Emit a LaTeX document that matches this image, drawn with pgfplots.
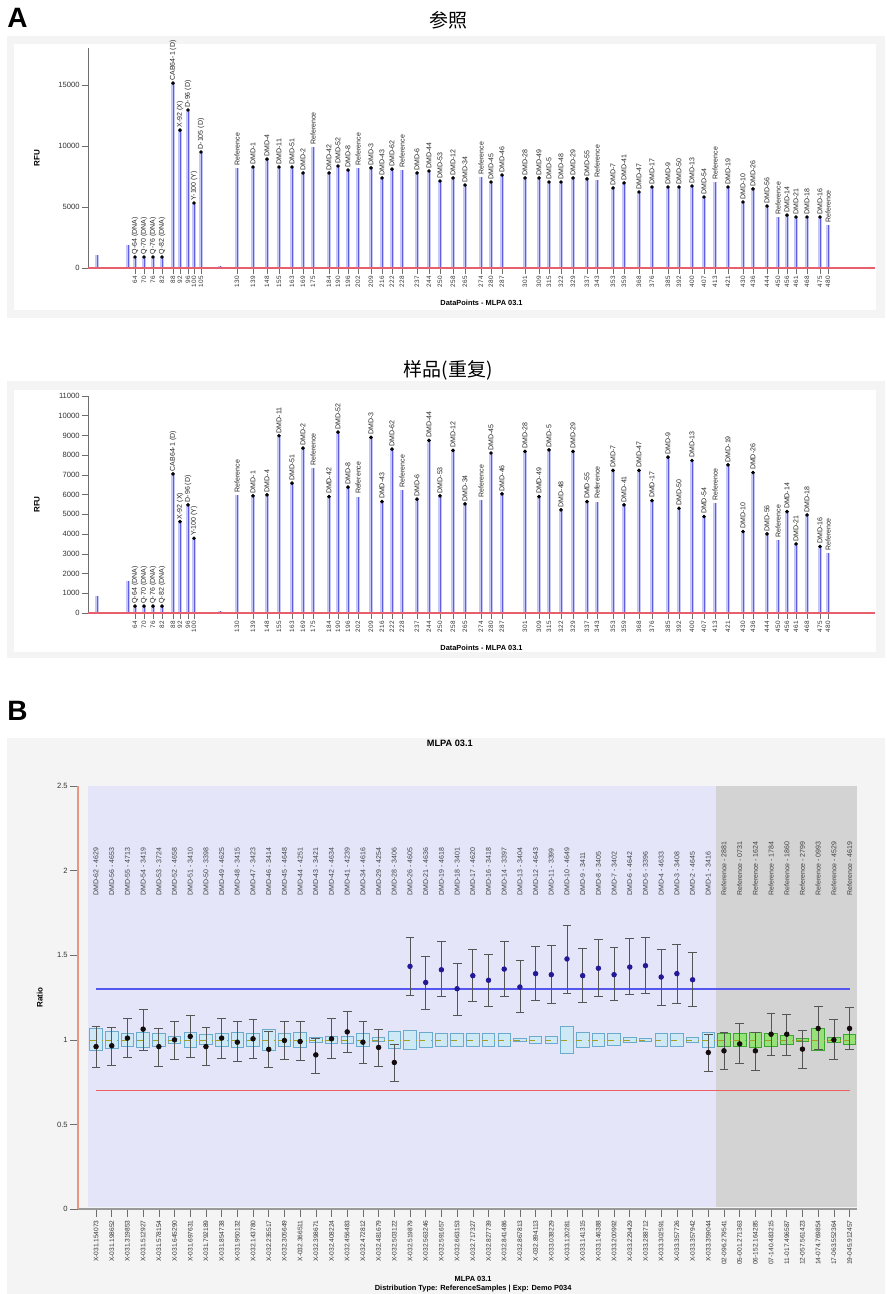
\documentclass[border=0pt]{standalone}
\usepackage{fontspec}
\setmainfont{Liberation Sans}
\newfontfamily\cjk{Noto Sans CJK SC}
\usepackage{pgfplots}
\pgfplotsset{compat=1.18}
\usepgfplotslibrary{statistics}
\usepackage{pgfplotstable}

\definecolor{peak}{RGB}{95,95,225}
\definecolor{peakhalo}{RGB}{200,200,246}
\definecolor{base}{RGB}{232,95,110}
\definecolor{axgray}{RGB}{110,110,110}
\definecolor{lav}{RGB}{229,229,250}
\definecolor{refgray}{RGB}{211,211,211}
\definecolor{hiblue}{RGB}{85,85,240}
\definecolor{lored}{RGB}{238,95,95}
\definecolor{navy}{RGB}{35,25,150}
\definecolor{dotblk}{RGB}{20,12,12}
\definecolor{errc}{RGB}{85,85,85}
\definecolor{bxfill}{RGB}{205,233,246}
\definecolor{bxdraw}{RGB}{105,170,205}
\definecolor{gbfill}{RGB}{150,226,120}
\definecolor{gbdraw}{RGB}{60,165,50}
\definecolor{yax}{RGB}{236,150,130}
\definecolor{framebg}{RGB}{244,244,244}

\newcommand{\fsz}[1]{\fontsize{#1}{#1}\selectfont}

% ---------- Panel A: reference run ----------
\pgfplotstableread{
x y d lab
135 900 900 {Q-64 (DNA)}
144 900 900 {Q-70 (DNA)}
153 900 900 {Q-76 (DNA)}
162 900 900 {Q-82 (DNA)}
173 15160 15160 {CAB64-1 (D)}
180 11300 11300 {X-92 (X)}
188 12950 12950 {D-96 (D)}
194 5330 5330 {Y-100 (Y)}
201 9510 9510 {D-105 (D)}
237 8200 nan Reference
253 8280 8280 DMD-1
267 8930 8930 DMD-4
279 8280 8280 DMD-11
292 8280 8280 DMD-51
303 7790 7790 DMD-2
313 9900 nan Reference
329 7790 7790 DMD-42
338 8360 8360 DMD-52
348 8030 8030 DMD-8
358 8200 nan Reference
371 8200 8200 DMD-3
382 7380 7380 DMD-43
392 8110 8110 DMD-62
402 8030 nan Reference
417 7790 7790 DMD-6
429 7950 7950 DMD-44
440 7130 7130 DMD-53
453 7380 7380 DMD-12
465 6800 6800 DMD-34
481 7460 nan Reference
491 7050 7050 DMD-45
502 7620 7620 DMD-46
525 7380 7380 DMD-28
539 7380 7380 DMD-49
549 7050 7050 DMD-5
561 7050 7050 DMD-48
573 7380 7380 DMD-29
587 7300 7300 DMD-55
597 7210 nan Reference
613 6560 6560 DMD-7
624 6970 6970 DMD-41
639 6230 6230 DMD-47
652 6640 6640 DMD-17
668 6640 6640 DMD-9
679 6640 6640 DMD-50
692 6720 6720 DMD-13
704 5820 5820 DMD-54
715 7050 nan Reference
728 6640 6640 DMD-19
743 5410 5410 DMD-10
753 6480 6480 DMD-26
767 5080 5080 DMD-56
778 4180 nan Reference
787 4340 4340 DMD-14
796 4180 4180 DMD-21
807 4180 4180 DMD-18
820 4180 4180 DMD-16
828 3520 nan Reference
}\Aref

% ---------- Panel A: sample run ----------
\pgfplotstableread{
x y d lab
135 350 350 {Q-64 (DNA)}
144 350 350 {Q-70 (DNA)}
153 350 350 {Q-76 (DNA)}
162 350 350 {Q-82 (DNA)}
173 7050 7050 {CAB64-1 (D)}
180 4630 4630 {X-92 (X)}
188 5480 5480 {D-96 (D)}
194 3790 3790 {Y-100 (Y)}
237 5990 nan Reference
253 5940 5940 DMD-1
267 5990 5990 DMD-4
279 8985 8985 DMD-11
292 6580 6580 DMD-51
303 8360 8360 DMD-2
313 7340 nan Reference
329 5900 5900 DMD-42
338 9170 9170 DMD-52
348 6380 6380 DMD-8
358 5900 nan Reference
371 8900 8900 DMD-3
382 5650 5650 DMD-43
392 8310 8310 DMD-62
402 6240 nan Reference
417 5770 5770 DMD-6
429 8750 8750 DMD-44
440 5940 5940 DMD-53
453 8240 8240 DMD-12
465 5530 5530 DMD-34
481 5740 nan Reference
491 8110 8110 DMD-45
502 6040 6040 DMD-46
525 8190 8190 DMD-28
539 5900 5900 DMD-49
549 8270 8270 DMD-5
561 5230 5230 DMD-48
573 8190 8190 DMD-29
587 5650 5650 DMD-55
597 5650 nan Reference
613 7230 7230 DMD-7
624 5480 5480 DMD-41
639 7230 7230 DMD-47
652 5700 5700 DMD-17
668 7900 7900 DMD-9
679 5310 5310 DMD-50
692 7730 7730 DMD-13
704 4890 4890 DMD-54
715 5570 nan Reference
728 7510 7510 DMD-19
743 4130 4130 DMD-10
753 7120 7120 DMD-26
767 4010 4010 DMD-56
778 3710 nan Reference
787 5140 5140 DMD-14
796 3500 3500 DMD-21
807 4970 4970 DMD-18
820 3370 3370 DMD-16
828 3030 nan Reference
}\Asam

% ---------- Panel B ----------
\pgfplotstableread{
i v u l
0 0.960 1.080 0.840
1 0.965 1.075 0.852
2 1.010 1.128 0.897
3 1.063 1.182 0.937
4 0.960 1.065 0.846
5 1.000 1.108 0.882
6 1.020 1.142 0.897
7 0.960 1.073 0.848
8 1.010 1.128 0.892
9 0.986 1.108 0.872
10 1.006 1.118 0.892
11 0.944 1.050 0.836
12 0.996 1.112 0.882
13 0.990 1.108 0.878
14 0.911 1.010 0.803
15 1.006 1.124 0.892
16 1.047 1.168 0.927
17 0.986 1.108 0.862
18 0.955 1.059 0.846
19 0.866 0.976 0.753
39 0.925 1.033 0.813
40 0.935 1.043 0.826
41 0.976 1.098 0.858
42 0.935 1.043 0.818
43 1.033 1.154 0.911
44 1.033 1.152 0.911
45 0.945 1.055 0.832
46 1.067 1.197 0.945
47 1.000 1.118 0.887
48 1.067 1.193 0.945
}\Bblack

\pgfplotstableread{
i v u l
20 1.434 1.608 1.265
21 1.339 1.494 1.178
22 1.414 1.583 1.254
23 1.302 1.454 1.145
24 1.379 1.537 1.225
25 1.352 1.508 1.198
26 1.418 1.584 1.257
27 1.312 1.467 1.162
28 1.391 1.553 1.231
29 1.385 1.557 1.217
30 1.478 1.675 1.272
31 1.379 1.538 1.222
32 1.423 1.592 1.257
33 1.385 1.547 1.234
34 1.430 1.600 1.266
35 1.438 1.608 1.277
36 1.371 1.537 1.201
37 1.391 1.562 1.213
38 1.355 1.518 1.198
}\Bblue

\pgfplotstableread{
i y lab
0 1.85 {DMD-62 - 4629}
1 1.85 {DMD-56 - 4653}
2 1.85 {DMD-55 - 4713}
3 1.85 {DMD-54 - 3419}
4 1.85 {DMD-53 - 3724}
5 1.85 {DMD-52 - 4658}
6 1.85 {DMD-51 - 3410}
7 1.85 {DMD-50 - 3398}
8 1.85 {DMD-49 - 4625}
9 1.85 {DMD-48 - 3415}
10 1.85 {DMD-47 - 3423}
11 1.85 {DMD-46 - 3414}
12 1.85 {DMD-45 - 4648}
13 1.85 {DMD-44 - 4251}
14 1.85 {DMD-43 - 3421}
15 1.85 {DMD-42 - 4634}
16 1.85 {DMD-41 - 4239}
17 1.85 {DMD-34 - 4616}
18 1.85 {DMD-29 - 4254}
19 1.85 {DMD-28 - 3406}
20 1.85 {DMD-26 - 4605}
21 1.85 {DMD-21 - 4636}
22 1.85 {DMD-19 - 4618}
23 1.85 {DMD-18 - 3401}
24 1.85 {DMD-17 - 4620}
25 1.85 {DMD-16 - 3418}
26 1.85 {DMD-14 - 3397}
27 1.85 {DMD-13 - 3404}
28 1.85 {DMD-12 - 4643}
29 1.85 {DMD-11 - 3399}
30 1.85 {DMD-10 - 4649}
31 1.85 {DMD-9 - 3411}
32 1.85 {DMD-8 - 3405}
33 1.85 {DMD-7 - 3402}
34 1.85 {DMD-6 - 4642}
35 1.85 {DMD-5 - 3396}
36 1.85 {DMD-4 - 4633}
37 1.85 {DMD-3 - 3408}
38 1.85 {DMD-2 - 4645}
39 1.85 {DMD-1 - 3416}
40 1.85 {Reference - 2881}
41 1.85 {Reference - 0731}
42 1.85 {Reference - 1624}
43 1.85 {Reference - 1784}
44 1.85 {Reference - 1860}
45 1.85 {Reference - 2799}
46 1.85 {Reference - 0993}
47 1.85 {Reference - 4529}
48 1.85 {Reference - 4619}
}\Btop

\newcommand{\Bx}[3]{\addplot[draw=bxdraw, fill=bxfill, line width=0.4pt,
  boxplot prepared={draw direction=y, draw position=#1, lower whisker=#2, lower quartile=#2, median=1,
  upper quartile=#3, upper whisker=#3, box extend=0.8,
  every median/.style={draw=olive!80, dashed, line width=0.3pt}}] coordinates {};}
\newcommand{\Gx}[3]{\addplot[draw=gbdraw, fill=gbfill, line width=0.4pt,
  boxplot prepared={draw direction=y, draw position=#1, lower whisker=#2, lower quartile=#2, median=1,
  upper quartile=#3, upper whisker=#3, box extend=0.8,
  every median/.style={draw=olive!80, dashed, line width=0.3pt}}] coordinates {};}

\pgfplotsset{
  peakaxis/.style={
    scale only axis, width=393.5pt, anchor=south west, clip=false,
    xmin=88, xmax=875, ymin=0,
    axis x line=bottom, axis y line=left, axis line style={-},
    x axis line style={base, line width=0.6pt},
    y axis line style={axgray, line width=0.4pt},
    tick style={axgray, line width=0.3pt}, tick align=outside, major tick length=3pt,
    yticklabel style={font=\fsz{3.8}, text=black!80, inner sep=1pt},
    xticklabel style={font=\fsz{3.2}, rotate=90, anchor=east, text=black!80, inner sep=1pt},
    /pgf/number format/1000 sep={}, /pgf/number format/assume math mode=true,
    scaled y ticks=false,
    ylabel={RFU},
    ylabel style={font=\bfseries\fsz{4}, at={(axis description cs:-0.065,0.5)}, anchor=center},
    xlabel={DataPoints - MLPA 03.1},
    xlabel style={font=\bfseries\fsz{3.7}, at={(axis description cs:0.5,-0.16)}, anchor=center},
    nodes near coords style={rotate=90, anchor=west, font=\fsz{3.5}, inner sep=1.1pt, text=black!85},
  }
}

\begin{document}
\begin{tikzpicture}
\useasboundingbox (0,0) rectangle (443.5pt,-647pt);
% panel backgrounds
\fill[framebg] (3.5pt,-18pt) rectangle (442.5pt,-159pt);
\fill[white] (7pt,-22pt) rectangle (438pt,-155pt);
\fill[framebg] (3.5pt,-190.5pt) rectangle (442.5pt,-329pt);
\fill[white] (7pt,-195pt) rectangle (438pt,-326pt);
\fill[framebg] (3.5pt,-369pt) rectangle (442.5pt,-647pt);

\node[font=\bfseries\fsz{14}] at (8.75pt,-9pt) {A};
\node[font=\bfseries\fsz{14}] at (8.75pt,-355.5pt) {B};
\node[font=\cjk\fsz{9.5}] at (224pt,-10pt) {参照};
\node[font=\cjk\fsz{9.5}] at (224pt,-185pt) {样品(重复)};

% ---- A: reference ----
\begin{axis}[peakaxis, at={(44pt,-134pt)}, height=109.8pt, ymax=18000,
  ytick={0,5000,10000,15000},
  xtick={135,144,153,162,173,180,188,194,201,237,253,267,279,292,303,313,329,338,348,358,371,382,392,402,417,429,440,453,465,481,491,502,525,539,549,561,573,587,597,613,624,639,652,668,679,692,704,715,728,743,753,767,778,787,796,807,820,828},
  xticklabels={64,70,76,82,88,92,96,100,105,130,139,148,155,163,169,175,184,190,196,202,209,216,222,228,237,244,250,258,265,274,280,287,301,309,315,322,329,337,343,353,359,368,376,385,392,400,407,413,421,430,436,444,450,456,461,468,475,480}]
\addplot[ycomb, peakhalo, line width=1.6pt, mark=none] coordinates {(97,1070) (128,1890) (220,150)};
\addplot[ycomb, peak, line width=0.45pt, mark=none] coordinates {(97,1070) (128,1890) (220,150)};
\addplot[ycomb, peakhalo, line width=1.6pt, mark=none] table[x=x, y=y] {\Aref};
\addplot[ycomb, peak, line width=0.45pt, mark=none, nodes near coords, point meta=explicit symbolic] table[x=x, y=y, meta=lab] {\Aref};
\addplot[only marks, mark=*, mark size=0.7pt, black] table[x=x, y=d] {\Aref};
\addplot[base, line width=0.6pt] coordinates {(88,0) (875,0)};
\end{axis}

% ---- A: sample ----
\begin{axis}[peakaxis, at={(44pt,-306.5pt)}, height=108.5pt, ymax=11000,
  ytick={0,1000,2000,3000,4000,5000,6000,7000,8000,9000,10000,11000},
  xtick={135,144,153,162,173,180,188,194,237,253,267,279,292,303,313,329,338,348,358,371,382,392,402,417,429,440,453,465,481,491,502,525,539,549,561,573,587,597,613,624,639,652,668,679,692,704,715,728,743,753,767,778,787,796,807,820,828},
  xticklabels={64,70,76,82,88,92,96,100,130,139,148,155,163,169,175,184,190,196,202,209,216,222,228,237,244,250,258,265,274,280,287,301,309,315,322,329,337,343,353,359,368,376,385,392,400,407,413,421,430,436,444,450,456,461,468,475,480}]
\addplot[ycomb, peakhalo, line width=1.6pt, mark=none] coordinates {(97,860) (128,1620) (220,120)};
\addplot[ycomb, peak, line width=0.45pt, mark=none] coordinates {(97,860) (128,1620) (220,120)};
\addplot[ycomb, peakhalo, line width=1.6pt, mark=none] table[x=x, y=y] {\Asam};
\addplot[ycomb, peak, line width=0.45pt, mark=none, nodes near coords, point meta=explicit symbolic] table[x=x, y=y, meta=lab] {\Asam};
\addplot[only marks, mark=*, mark size=0.7pt, black] table[x=x, y=d] {\Asam};
\addplot[base, line width=0.6pt] coordinates {(88,0) (875,0)};
\end{axis}

% ---- B: ratio chart ----
\begin{axis}[scale only axis, at={(39pt,-604.5pt)}, anchor=south west,
  width=389.7pt, height=211.5pt, clip=false,
  xmin=-1.15, xmax=48.5, ymin=0, ymax=2.5,
  axis x line=bottom, axis y line=left, axis line style={-},
  x axis line style={axgray!70, line width=0.7pt},
  y axis line style={yax, line width=0.6pt},
  tick style={axgray, line width=0.3pt}, tick align=outside, major tick length=4pt,
  ytick={0,0.5,1,1.5,2,2.5},
  yticklabel style={font=\fsz{3.8}, text=black!80, inner sep=1pt},
  /pgf/number format/assume math mode=true,
  xtick={0,...,48},
  xticklabels={X-031.154073,X-031.198652,X-031.319853,X-031.512927,X-031.578154,X-031.645290,X-031.697631,X-031.792189,X-031.854738,X-031.950132,X-032.143780,X-032.235517,X-032.305649,X-032.366511,X-032.398671,X-032.408224,X-032.456483,X-032.472812,X-032.481679,X-032.503122,X-032.519879,X-032.563246,X-032.591657,X-032.663153,X-032.717327,X-032.827739,X-032.841486,X-032.867813,X-032.894113,X-033.038229,X-033.120281,X-033.141315,X-033.146388,X-033.200992,X-033.229429,X-033.288712,X-033.302591,X-033.357726,X-033.357942,X-033.359044,02-096.279541,05-001.271363,06-152.164285,07-140.483215,11-017.496587,12-057.561423,14-074.769854,17-063.552364,19-045.912457},
  xticklabel style={font=\fsz{3.3}, rotate=90, anchor=east, text=black!80, inner sep=1.5pt},
  ylabel={Ratio},
  ylabel style={font=\bfseries\fsz{4}, at={(axis description cs:-0.049,0.5)}, anchor=center},
  xlabel={MLPA 03.1\\Distribution Type: ReferenceSamples | Exp: Demo P034},
  xlabel style={align=center, font=\bfseries\fontsize{3.7}{4.4}\selectfont, inner sep=0pt, at={(axis description cs:0.507,-0.1785)}, anchor=center},
  title={MLPA 03.1},
  title style={font=\bfseries\fsz{4.6}, at={(axis description cs:0.477,1.073)}, anchor=center},
]
\fill[lav] (axis cs:-0.5,0.012) rectangle (axis cs:39.5,2.5);
\fill[refgray] (axis cs:39.5,0.012) rectangle (axis cs:48.5,2.5);
\addplot[hiblue, line width=0.7pt] coordinates {(0,1.3) (48,1.3)};
\addplot[lored, line width=0.8pt] coordinates {(0,0.7) (48,0.7)};
\Bx{0}{0.935}{1.065}\Bx{1}{0.95}{1.05}\Bx{2}{0.96}{1.04}\Bx{3}{0.955}{1.045}
\Bx{4}{0.96}{1.04}\Bx{5}{0.98}{1.02}\Bx{6}{0.955}{1.045}\Bx{7}{0.97}{1.03}
\Bx{8}{0.96}{1.04}\Bx{9}{0.955}{1.045}\Bx{10}{0.96}{1.04}\Bx{11}{0.94}{1.06}
\Bx{12}{0.96}{1.04}\Bx{13}{0.955}{1.045}\Bx{14}{0.985}{1.015}\Bx{15}{0.98}{1.02}
\Bx{16}{0.98}{1.02}\Bx{17}{0.96}{1.04}\Bx{18}{0.988}{1.012}\Bx{19}{0.95}{1.05}
\Bx{20}{0.945}{1.055}\Bx{21}{0.955}{1.045}\Bx{22}{0.96}{1.04}\Bx{23}{0.96}{1.04}
\Bx{24}{0.96}{1.04}\Bx{25}{0.96}{1.04}\Bx{26}{0.96}{1.04}\Bx{27}{0.99}{1.01}
\Bx{28}{0.98}{1.02}\Bx{29}{0.98}{1.02}\Bx{30}{0.92}{1.08}\Bx{31}{0.955}{1.045}
\Bx{32}{0.96}{1.04}\Bx{33}{0.965}{1.035}\Bx{34}{0.985}{1.015}\Bx{35}{0.99}{1.01}
\Bx{36}{0.96}{1.04}\Bx{37}{0.96}{1.04}\Bx{38}{0.985}{1.015}\Bx{39}{0.955}{1.045}
\Gx{40}{0.96}{1.04}\Gx{41}{0.96}{1.04}\Gx{42}{0.955}{1.045}\Gx{43}{0.96}{1.04}
\Gx{44}{0.975}{1.025}\Gx{45}{0.99}{1.01}\Gx{46}{0.935}{1.065}\Gx{47}{0.985}{1.015}
\Gx{48}{0.97}{1.03}
\addplot[only marks, mark=*, mark size=1.15pt, dotblk,
  error bars/.cd, y dir=both, y explicit,
  error bar style={errc, line width=0.35pt},
  error mark options={rotate=90, mark size=2.2pt, errc, line width=0.35pt}]
  table[x=i, y=v, y error plus expr=\thisrow{u}-\thisrow{v}, y error minus expr=\thisrow{v}-\thisrow{l}] {\Bblack};
\addplot[only marks, mark=*, mark size=1.15pt, navy,
  error bars/.cd, y dir=both, y explicit,
  error bar style={errc, line width=0.35pt},
  error mark options={rotate=90, mark size=2.2pt, errc, line width=0.35pt}]
  table[x=i, y=v, y error plus expr=\thisrow{u}-\thisrow{v}, y error minus expr=\thisrow{v}-\thisrow{l}] {\Bblue};
\addplot[draw=none, mark=none, nodes near coords, point meta=explicit symbolic,
  nodes near coords style={rotate=90, anchor=west, font=\fsz{3.5}, text=black!75, inner sep=0pt}]
  table[x=i, y=y, meta=lab] {\Btop};
\end{axis}
\end{tikzpicture}
\end{document}
